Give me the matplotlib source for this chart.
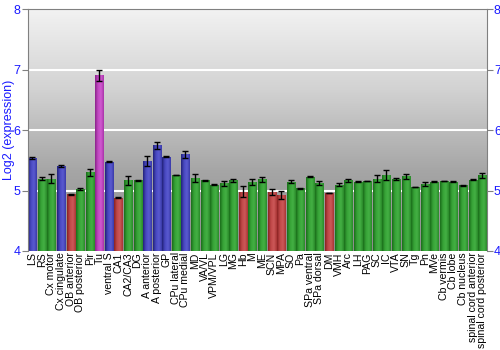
import numpy as np
import matplotlib
matplotlib.use("Agg")
import matplotlib.pyplot as plt
from matplotlib.colors import LinearSegmentedColormap

categories = ["LS", "RS", "Cx motor", "Cx cingulate", "OB anterior", "OB posterior", "Pir", "Tu",
              "ventral S", "CA1", "CA2/CA3", "DG", "A anterior", "A posterior", "GP", "CPu lateral",
              "CPu medial", "MD", "VA/VL", "VPM/VPL", "LG", "MG", "Hb", "M", "ME", "SCN", "MPA",
              "SO", "Pa", "SPa ventral", "SPa dorsal", "DM", "VMH", "Arc", "LH", "PAG", "SC", "IC",
              "VTA", "SN", "Tg", "Pn", "MVe", "Cb vermis", "Cb lobe", "Cb nucleus",
              "spinal cord anterior", "spinal cord posterior"]
values = [5.54, 5.20, 5.20, 5.41, 4.94, 5.03, 5.30, 6.91,
          5.48, 4.88, 5.17, 5.17, 5.49, 5.75, 5.56, 5.25,
          5.60, 5.21, 5.17, 5.10, 5.12, 5.17, 4.98, 5.15, 5.19, 4.98, 4.93,
          5.15, 5.04, 5.23, 5.13, 4.96, 5.10, 5.17, 5.15, 5.16, 5.20, 5.26,
          5.19, 5.24, 5.06, 5.11, 5.15, 5.16, 5.15, 5.09,
          5.18, 5.25]
errors = [0.01, 0.02, 0.08, 0.02, 0.01, 0.02, 0.06, 0.09,
          0.01, 0.01, 0.07, 0.005, 0.08, 0.06, 0.01, 0.0,
          0.06, 0.06, 0.01, 0.005, 0.04, 0.03, 0.09, 0.05, 0.04, 0.05, 0.07,
          0.02, 0.01, 0.005, 0.03, 0.005, 0.02, 0.02, 0.005, 0.005, 0.05, 0.08,
          0.02, 0.04, 0.005, 0.04, 0.005, 0.005, 0.005, 0.01,
          0.005, 0.04]
groups = ["b", "g", "g", "b", "r", "g", "g", "m",
          "b", "r", "g", "g", "b", "b", "b", "g",
          "b", "g", "g", "g", "g", "g", "r", "g", "g", "r", "r",
          "g", "g", "g", "g", "r", "g", "g", "g", "g", "g", "g",
          "g", "g", "g", "g", "g", "g", "g", "g",
          "g", "g"]

palettes = {
    "b": ["#22227a", "#4848c0", "#5a5ad0", "#3a3aa8"],
    "g": ["#1a6e1a", "#36a236", "#44b044", "#2a8a2a"],
    "r": ["#8a2222", "#c04848", "#cc5858", "#a83434"],
    "m": ["#8a228a", "#c048c0", "#d058d0", "#a834a8"],
}
cmaps = {k: LinearSegmentedColormap.from_list(k, v) for k, v in palettes.items()}

plt.rcParams['font.family'] = ['Liberation Sans', 'DejaVu Sans']
fig = plt.figure(figsize=(5, 3.5), dpi=100)
ax = fig.add_axes([0.055, 0.283, 0.919, 0.69])

x = np.arange(len(categories))
ax.set_xlim(-0.5, len(categories) - 0.5)
ax.set_ylim(4, 8)

# background gradient
bg = LinearSegmentedColormap.from_list("bg", ["#8c8c8c", "#a6a6a6", "#d2d2d2", "#f2f2f2"])
grad = np.linspace(0, 1, 256).reshape(-1, 1)
ax.imshow(grad, extent=(-0.5, len(categories) - 0.5, 4, 8), origin="lower",
          aspect="auto", cmap=bg, zorder=0)

for yv in [5, 6, 7]:
    ax.axhline(yv, color="white", lw=1.5, zorder=1)

bars = ax.bar(x, [v - 4 for v in values], bottom=4, width=0.84, color="none",
              edgecolor="none", zorder=2)
hgrad = np.linspace(0, 1, 64).reshape(1, -1)
for b, grp in zip(bars, groups):
    x0, y0 = b.get_x(), b.get_y()
    w, h = b.get_width(), b.get_height()
    im = ax.imshow(hgrad, extent=(x0, x0 + w, y0, y0 + h), aspect="auto",
                   cmap=cmaps[grp], zorder=2)
    im.set_clip_path(b)

ax.errorbar(x, values, yerr=errors, fmt="none", ecolor="black", elinewidth=1,
            capsize=2, capthick=1, zorder=3)

ax.set_xticks(x)
ax.set_xticklabels(categories, rotation=90, fontsize=7.6, color="black")
ax.tick_params(axis="x", length=0, pad=1)
ax.set_yticks([4, 5, 6, 7, 8])
ax.tick_params(axis="y", which="both", left=True, right=True, labelleft=True,
               labelright=True, colors="#808080", labelcolor="#1a1aff",
               labelsize=9, length=4, direction="out", pad=1)
ax.set_ylabel("Log2 (expression)", color="#1a1aff", fontsize=9, va="center")
ax.yaxis.set_label_coords(-0.040, 0.5)

for s in ["left", "right", "top"]:
    ax.spines[s].set_color("#808080")
ax.spines["bottom"].set_visible(False)

fig.savefig("out.png", dpi=100)
